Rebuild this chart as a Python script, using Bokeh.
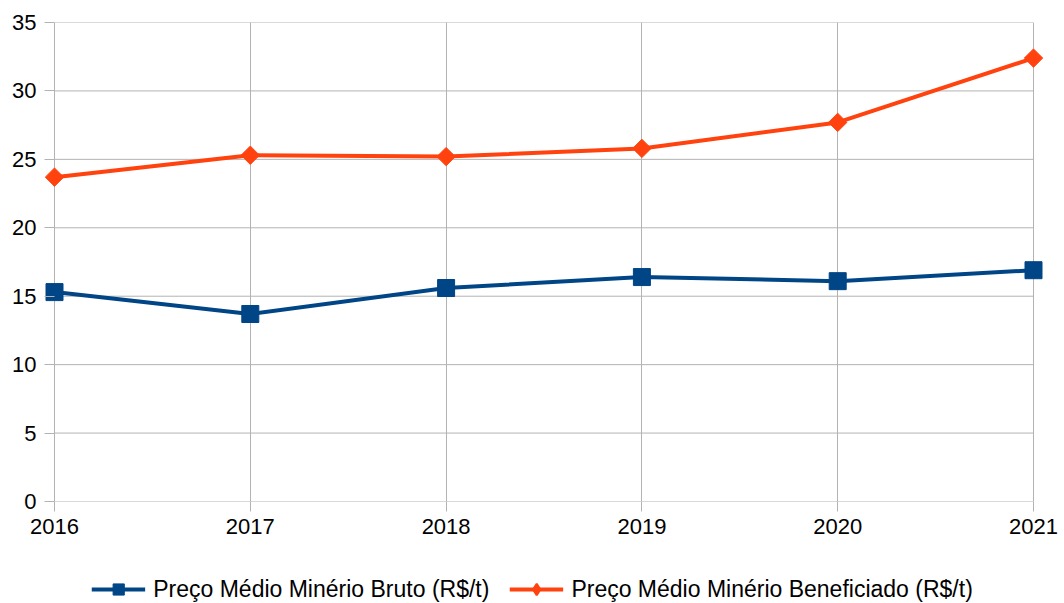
import math
from bokeh.plotting import figure
from bokeh.layouts import column
from bokeh.models import Legend, LegendItem, FixedTicker, Range1d
from bokeh.embed import file_html
from bokeh.resources import INLINE

years = [2016, 2017, 2018, 2019, 2020, 2021]
bruto = [15.3, 13.7, 15.6, 16.4, 16.1, 16.9]
beneficiado = [23.7, 25.3, 25.2, 25.8, 27.7, 32.4]
y_ticks = [0, 5, 10, 15, 20, 25, 30, 35]
name_bruto = "Preço Médio Minério Bruto (R$/t)"
name_benef = "Preço Médio Minério Beneficiado (R$/t)"

FONT = "Liberation Sans"
GRID = "#b3b3b3"
BLUE = "#004586"
ORANGE = "#ff420e"

# layout: plot area 979px wide for the 5-year span, plus 10px pad each side for markers
PAD_PX = 10
PX_PER_YEAR = 979 / (years[-1] - years[0])
pad = PAD_PX / PX_PER_YEAR

p = figure(frame_width=979 + 2 * PAD_PX, frame_height=479, output_backend="svg",
           toolbar_location=None,
           x_range=Range1d(years[0] - pad, years[-1] + pad), y_range=Range1d(0, 35))
p.min_border_left = 54 - PAD_PX
p.min_border_right = 31 - PAD_PX
p.min_border_top = 22
p.min_border_bottom = 74
p.outline_line_color = None
p.background_fill_color = "white"

p.xaxis.ticker = FixedTicker(ticks=years)
p.yaxis.ticker = FixedTicker(ticks=y_ticks)
p.xaxis.major_label_overrides = {y: str(y) for y in years}
for ax in (p.xaxis, p.yaxis):
    ax.axis_line_color = None
    ax.major_tick_line_color = GRID
    ax.minor_tick_line_color = None
    ax.major_label_text_font = FONT
    ax.major_label_text_font_size = "22px"
    ax.major_label_text_color = "#000000"
p.xaxis.major_tick_in = 0
p.xaxis.major_tick_out = 10
p.xaxis.major_label_standoff = 7
p.yaxis.major_tick_in = PAD_PX
p.yaxis.major_tick_out = 0
p.yaxis.major_label_standoff = 8

# vertical grid lines at each year (incl. axis line at 2016 and right edge at 2021)
p.xgrid.grid_line_color = GRID
# horizontal grid lines only across the data span
p.ygrid.grid_line_color = None
p.segment(x0=[years[0]] * len(y_ticks), x1=[years[-1]] * len(y_ticks),
          y0=y_ticks, y1=y_ticks, line_color=GRID, line_width=1)

p.line(years, bruto, line_color=BLUE, line_width=4)
p.scatter(years, bruto, marker="square", size=17, fill_color=BLUE, line_color=BLUE)
p.line(years, beneficiado, line_color=ORANGE, line_width=4)
p.scatter(years, beneficiado, marker="square", size=13, angle=math.pi / 4,
          fill_color=ORANGE, line_color=ORANGE)

# legend strip below the chart (legend glyphs use off-screen proxy renderers)
lg = figure(frame_width=1064, frame_height=28, output_backend="svg", toolbar_location=None,
            x_axis_type=None, y_axis_type=None, min_border=0,
            x_range=Range1d(0, 1), y_range=Range1d(0, 1))
lg.outline_line_color = None
lg.xgrid.grid_line_color = None
lg.ygrid.grid_line_color = None
off = [-10]
e1 = lg.line(off, off, line_color=BLUE, line_width=4)
m1 = lg.scatter(off, off, marker="square", fill_color=BLUE, line_color=BLUE)
e2 = lg.line(off, off, line_color=ORANGE, line_width=4)
m2 = lg.scatter(off, off, marker="diamond", fill_color=ORANGE, line_color=ORANGE, line_width=2)

legend = Legend(items=[LegendItem(label=name_bruto, renderers=[e1, m1]),
                       LegendItem(label=name_benef, renderers=[e2, m2])],
                orientation="horizontal", location="center",
                label_text_font=FONT, label_text_font_size="23px",
                label_text_color="#000000",
                glyph_width=54, glyph_height=28, spacing=20, label_standoff=8,
                border_line_color=None, background_fill_alpha=0,
                padding=0, margin=0)
lg.add_layout(legend, "center")

layout = column(p, lg, spacing=0)
open("out.html", "w").write(file_html(layout, INLINE))
